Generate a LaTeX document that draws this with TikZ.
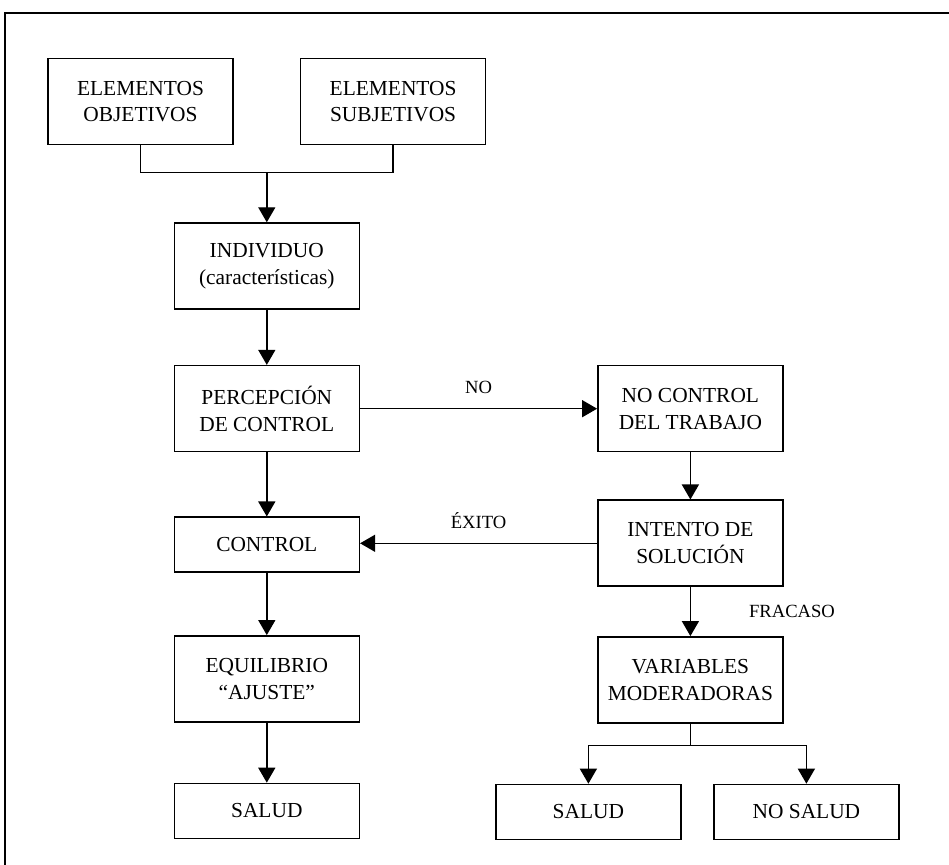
\documentclass[tikz,border=0pt]{standalone}
\usepackage{fontspec}
\setmainfont{Liberation Serif}
\usepackage{tikz}
\usetikzlibrary{arrows.meta,positioning}
\tikzset{
  block/.style={draw=black,line width=0.8pt,fill=white,align=center,
    minimum width=92.5pt,minimum height=43pt,inner sep=2pt,
    font=\fontsize{10.7}{13.4}\selectfont},
  shortblock/.style={block,minimum height=27.5pt},
  flow/.style={-{Triangle[length=7.5pt,width=8.5pt]},line width=0.7pt},
  joint/.style={line width=0.7pt},
  tag/.style={font=\fontsize{9.3}{11}\selectfont,inner sep=1pt},
  frame/.style={line width=0.8pt}
}

\begin{document}
\begin{tikzpicture}[x=0.5pt,y=-0.5pt]
  \useasboundingbox (0,0) rectangle (949,865);
  \draw[frame] (5,865) |- (949,13);
  % left column
  \node[block] (obj) at (140.5,101.5) {ELEMENTOS\\OBJETIVOS};
  \node[block,right=33pt of obj] (subj) {ELEMENTOS\\SUBJETIVOS};
  \path (obj.south) -- (subj.south) coordinate[pos=0.5] (mid);
  \coordinate[below=13.5pt of mid] (join);
  \node[block,below=38.5pt of mid] (indiv) {INDIVIDUO\\(características)};
  \node[block,below=27.5pt of indiv] (perc) {PERCEPCIÓN\\DE CONTROL};
  \node[shortblock,below=32pt of perc] (ctrl) {CONTROL};
  \node[block,below=31pt of ctrl] (equil) {EQUILIBRIO\\“AJUSTE”};
  \node[shortblock,below=30pt of equil] (salud) {SALUD};
  % right column
  \node[block,right=118.5pt of perc] (noctrl) {NO CONTROL\\DEL TRABAJO};
  \node[block,below=23.5pt of noctrl] (intento) {INTENTO DE\\SOLUCIÓN};
  \node[block,below=24.5pt of intento] (vars) {VARIABLES\\MODERADORAS};
  \coordinate[below=11pt of vars] (split);
  \node[shortblock,below=30pt of vars,xshift=-51pt] (salud2) {SALUD};
  \node[shortblock,below=30pt of vars,xshift=58pt] (nosalud) {NO SALUD};
  % connectors
  \draw[joint] (obj.south) |- (join) -| (subj.south);
  \draw[flow] (join) -- (indiv.north -| join);
  \draw[flow] (indiv) -- (perc); \draw[flow] (perc) -- (ctrl);
  \draw[flow] (ctrl) -- (equil); \draw[flow] (equil) -- (salud);
  \draw[flow] (perc) -- node[tag,above=6pt]{NO} (noctrl);
  \draw[flow] (noctrl) -- (intento);
  \draw[flow] (intento.west) -- node[tag,above=6pt]{ÉXITO} (ctrl.east |- intento.west);
  \draw[flow] (intento) -- node[tag,right=28pt]{FRACASO} (vars);
  \draw[joint] (vars) -- (split);
  \draw[flow] (split) -| (salud2);
  \draw[flow] (split) -| (nosalud);
\end{tikzpicture}
\end{document}
